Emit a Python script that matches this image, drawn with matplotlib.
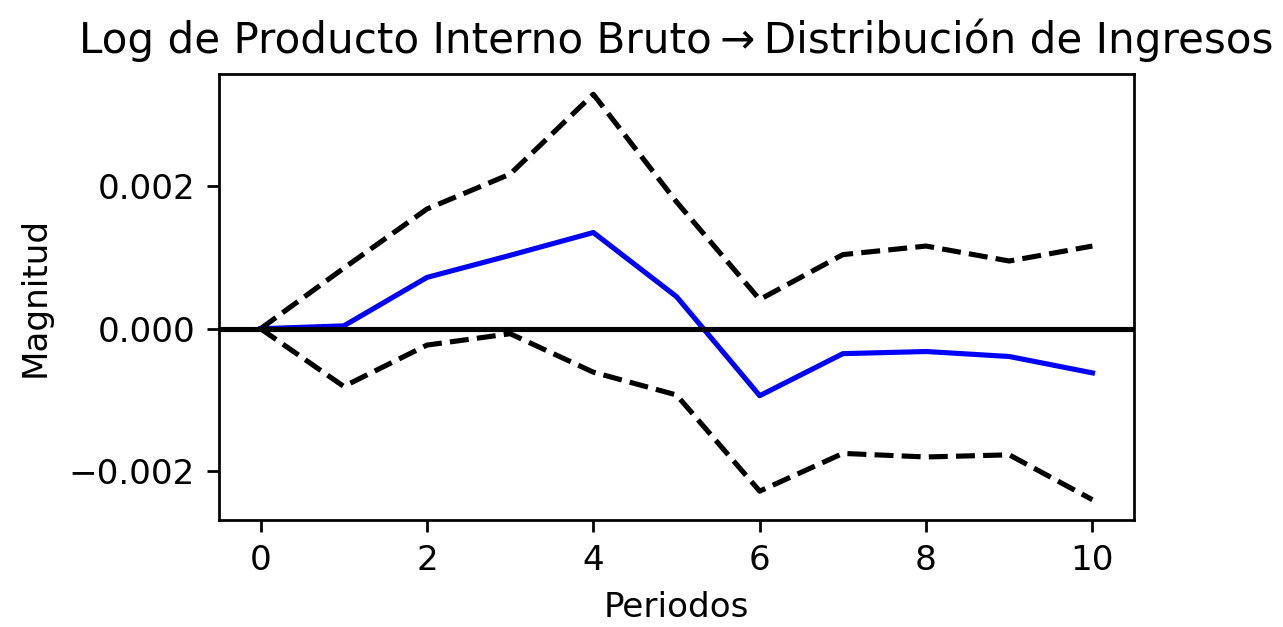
import matplotlib
matplotlib.use("Agg")
import matplotlib.pyplot as plt
from matplotlib.ticker import MultipleLocator

plt.rcParams['font.family'] = ['DejaVu Sans']

periodos = [0, 1, 2, 3, 4, 5, 6, 7, 8, 9, 10]
irf = [0.0, 0.00004, 0.00072, 0.00103, 0.00135, 0.00045, -0.00094, -0.00035, -0.00032, -0.00039, -0.00062]
upper = [0.0, 0.00085, 0.00168, 0.00217, 0.00329, 0.00178, 0.00041, 0.00104, 0.00116, 0.00095, 0.00116]
lower = [0.0, -0.00081, -0.00023, -0.00007, -0.00061, -0.00093, -0.00228, -0.00175, -0.00180, -0.00177, -0.00240]

title = "Log de Producto Interno Bruto\u2009\u2192\u2009Distribución de Ingresos"

dpi = 246
fig = plt.figure(figsize=(1283 / dpi, 627 / dpi), dpi=dpi)
ax = fig.add_axes([219 / 1283, 1 - 520 / 627, (1134 - 219) / 1283, (520 - 74) / 627])

ax.plot(periodos, irf, color='blue', lw=1.5)
ax.plot(periodos, upper, color='black', ls='--', lw=1.5)
ax.plot(periodos, lower, color='black', ls='--', lw=1.5)
ax.axhline(0, color='black', lw=1.5)

ax.yaxis.set_major_locator(MultipleLocator(0.002))
ax.xaxis.set_major_locator(MultipleLocator(2))
ax.set_title(title, fontsize=12.3)
ax.set_xlabel("Periodos")
ax.set_ylabel("Magnitud", labelpad=5)

fig.savefig("out.png", dpi=dpi)
